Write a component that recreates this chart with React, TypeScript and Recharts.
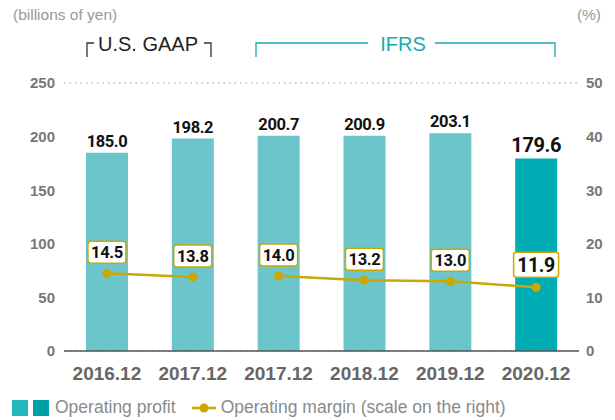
import {
  Bar,
  CartesianGrid,
  Cell,
  ComposedChart,
  LabelList,
  Legend,
  Line,
  XAxis,
  YAxis,
} from "recharts";

const categories = ["2016.12", "2017.12", "2017.12", "2018.12", "2019.12", "2020.12"];
const operatingProfit = [185.0, 198.2, 200.7, 200.9, 203.1, 179.6];
const marginGaap = [14.5, 13.8, null, null, null, null];
const marginIfrs = [null, null, 14.0, 13.2, 13.0, 11.9];
const profitTicks = [0, 50, 100, 150, 200, 250];
const marginTicks = [0, 10, 20, 30, 40, 50];

const LIGHT = "#6cc5cb";
const DARK = "#00adb5";
const GOLD = "#c9a800";
const NUM_FONT = "Roboto, 'DejaVu Sans Condensed', sans-serif";
const TXT_FONT = "'Liberation Sans', Arial, sans-serif";

const data = categories.map((year, i) => ({
  year,
  profit: operatingProfit[i],
  gaap: marginGaap[i],
  ifrs: marginIfrs[i],
}));

const ProfitLabel = (props: any) => {
  const { x, y, width, value, index } = props;
  const last = index === categories.length - 1;
  return (
    <text
      x={x + width / 2}
      y={y - 6}
      textAnchor="middle"
      fontFamily={NUM_FONT}
      fontWeight="bold"
      fontSize={last ? 20 : 16.5}
      letterSpacing={-0.4}
      fill="#111"
    >
      {Number(value).toFixed(1)}
    </text>
  );
};

const MarginLabel = (props: any) => {
  const { x, y, value, index } = props;
  if (value == null) return null;
  const last = index === categories.length - 1;
  const w = last ? 45 : 38;
  const h = last ? 25 : 22;
  const cy = y - (last ? 22.5 : 21);
  return (
    <g>
      <rect
        x={x - w / 2}
        y={cy - h / 2}
        width={w}
        height={h}
        rx={3}
        fill="#fff"
        stroke={GOLD}
        strokeWidth={1.5}
      />
      <text
        x={x}
        y={cy + (last ? 7 : 6)}
        textAnchor="middle"
        fontFamily={NUM_FONT}
        fontWeight="bold"
        fontSize={last ? 19.5 : 16.5}
        letterSpacing={-0.4}
        fill="#111"
      >
        {Number(value).toFixed(1)}
      </text>
    </g>
  );
};

const LegendContent = () => (
  <div
    style={{
      display: "flex",
      alignItems: "center",
      fontFamily: TXT_FONT,
      fontSize: 17.5,
      color: "#8a8a8a",
      whiteSpace: "nowrap",
    }}
  >
    <span style={{ width: 16, height: 16, background: "#22b6be", display: "inline-block" }} />
    <span style={{ width: 16, height: 16, background: "#009fa7", display: "inline-block", marginLeft: 5 }} />
    <span style={{ marginLeft: 6 }}>Operating profit</span>
    <svg width={24} height={12} style={{ marginLeft: 16 }}>
      <line x1={0} y1={6} x2={24} y2={6} stroke={GOLD} strokeWidth={2.5} />
      <circle cx={12} cy={6} r={4.5} fill={GOLD} />
    </svg>
    <span style={{ marginLeft: 5 }}>Operating margin (scale on the right)</span>
  </div>
);

export default function App() {
  return (
    <div style={{ position: "absolute", left: 0, top: 0, width: 615, height: 420, background: "#fff" }}>
      <ComposedChart
        width={615}
        height={420}
        data={data}
        margin={{ top: 83, right: 0, bottom: 39, left: 0 }}
      >
        <CartesianGrid
          vertical={false}
          stroke="#bbb"
          strokeDasharray="1.5 4"
          strokeWidth={1.5}
        />
        <XAxis
          dataKey="year"
          height={30}
          tickLine={false}
          axisLine={{ stroke: "#555", strokeWidth: 1.5 }}
          tickMargin={10}
          tick={{ fontFamily: TXT_FONT, fontSize: 19, fontWeight: 700, fill: "#666" }}
        />
        <YAxis
          yAxisId="left"
          width={64}
          domain={[0, 250]}
          ticks={profitTicks}
          axisLine={false}
          tickLine={false}
          tickMargin={3}
          tick={{ fontFamily: TXT_FONT, fontSize: 15, fontWeight: 700, fill: "#777" }}
        />
        <YAxis
          yAxisId="right"
          orientation="right"
          width={36}
          domain={[0, 50]}
          ticks={marginTicks}
          axisLine={false}
          tickLine={false}
          tickMargin={1}
          tick={{ fontFamily: TXT_FONT, fontSize: 15, fontWeight: 700, fill: "#777" }}
        />
        <Legend
          verticalAlign="middle"
          align="center"
          layout="horizontal"
          wrapperStyle={{ left: 12, top: 397, width: 600 }}
          content={<LegendContent />}
        />
        <Bar yAxisId="left" dataKey="profit" barSize={42} isAnimationActive={false}>
          {data.map((_, i) => (
            <Cell key={i} fill={i === data.length - 1 ? DARK : LIGHT} />
          ))}
          <LabelList dataKey="profit" content={<ProfitLabel />} />
        </Bar>
        <Line
          yAxisId="right"
          dataKey="gaap"
          stroke={GOLD}
          strokeWidth={2.5}
          dot={{ r: 4.5, fill: GOLD, stroke: GOLD, strokeWidth: 0 }}
          activeDot={false}
          isAnimationActive={false}
        >
          <LabelList dataKey="gaap" content={<MarginLabel />} />
        </Line>
        <Line
          yAxisId="right"
          dataKey="ifrs"
          stroke={GOLD}
          strokeWidth={2.5}
          dot={{ r: 4.5, fill: GOLD, stroke: GOLD, strokeWidth: 0 }}
          activeDot={false}
          isAnimationActive={false}
        >
          <LabelList dataKey="ifrs" content={<MarginLabel />} />
        </Line>
      </ComposedChart>
      <svg
        width={615}
        height={70}
        style={{ position: "absolute", left: 0, top: 0, pointerEvents: "none" }}
      >
        <text x={13} y={20} fontFamily={TXT_FONT} fontSize={15.5} fill="#999">
          (billions of yen)
        </text>
        <text x={601} y={20} textAnchor="end" fontFamily={TXT_FONT} fontSize={15.5} fill="#999">
          (%)
        </text>
        <polyline points="87,57 87,43 94,43" fill="none" stroke="#333" strokeWidth={1.3} />
        <text x={148} y={51} textAnchor="middle" fontFamily={TXT_FONT} fontSize={20} fill="#222">
          U.S. GAAP
        </text>
        <polyline points="204,43 211,43 211,57" fill="none" stroke="#333" strokeWidth={1.3} />
        <polyline points="256,57 256,43 368,43" fill="none" stroke="#1aa9b0" strokeWidth={1.3} />
        <text x={403} y={51} textAnchor="middle" fontFamily={TXT_FONT} fontSize={20} fill="#1aa9b0">
          IFRS
        </text>
        <polyline points="435,43 555,43 555,57" fill="none" stroke="#1aa9b0" strokeWidth={1.3} />
      </svg>
    </div>
  );
}
